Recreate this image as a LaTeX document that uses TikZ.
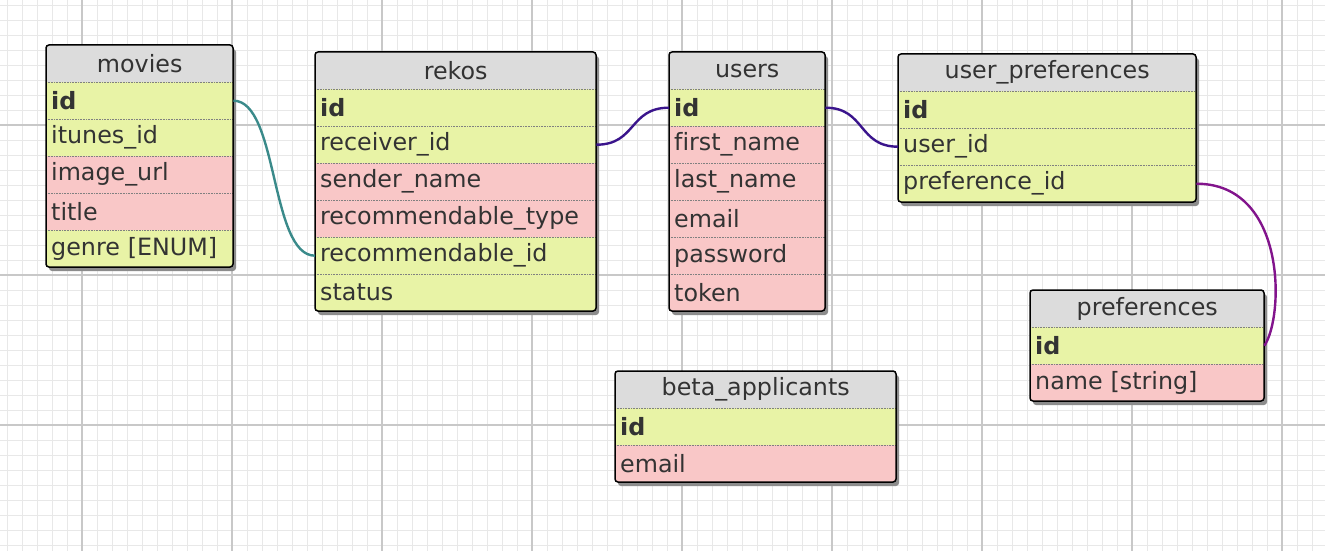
\documentclass[tikz,border=0pt]{standalone}
\usepackage{fontspec}
\setmainfont{DejaVu Sans}[Ligatures={NoCommon}]
\definecolor{gcol}{RGB}{232,243,166}
\definecolor{pcol}{RGB}{249,199,199}
\definecolor{hcol}{RGB}{220,220,220}
\definecolor{tcol}{RGB}{51,51,51}
\definecolor{minor}{RGB}{232,232,232}
\definecolor{major}{RGB}{200,200,200}
\definecolor{teal1}{RGB}{58,138,138}
\definecolor{indigo1}{RGB}{58,20,140}
\definecolor{purp1}{RGB}{130,20,140}
\tikzset{
  row/.style={anchor=north west, minimum height=37pt, inner sep=0pt, inner xsep=5pt, align=left, text=tcol, font=\fontsize{23.8}{27}\selectfont},
  hdr/.style={anchor=north west, minimum height=37pt, inner sep=0pt, fill=hcol, text=tcol, font=\fontsize{23.8}{27}\selectfont},
  sep/.style={gray, densely dotted, line width=0.6pt},
  frame/.style={line width=1.5pt, rounded corners=3pt},
  shad/.style={fill=black!45, rounded corners=3pt},
  link/.style={line width=2.4pt}
}
% #1 id, #2 x, #3 y, #4 w, #5 title, #6 nrows, #7 rows
\newcommand\ertable[7]{%
  \fill[shad] (#2+3,#3+4) rectangle ++(#4,{37*(#6+1)});
  \node[hdr, minimum width=#4pt] (#1) at (#2,#3) {#5};
  \foreach \t/\c [count=\i] in {#7} {
    \node[row, fill=\c, minimum width=#4pt, text width=#4pt-10pt] (#1-\i) at (#2,{#3+37*\i}) {\t};
    \draw[sep] (#1-\i.north west) -- (#1-\i.north east);
  }
  \draw[frame] (#2,#3) rectangle ++(#4,{37*(#6+1)});
}
\begin{document}
\begin{tikzpicture}[x=1pt,y=-1pt]
\useasboundingbox (0,0) rectangle (1325,551);
\fill[white] (0,0) rectangle (1325,551);
\foreach \x in {7,22,...,1325} \draw[minor, line width=0.8pt] (\x,0) -- (\x,551);
\foreach \y in {5,20,...,551} \draw[minor, line width=0.8pt] (0,\y) -- (1325,\y);
\foreach \x in {82,232,...,1325} \draw[major, line width=1.2pt] (\x,0) -- (\x,551);
\foreach \y in {125,275,425} \draw[major, line width=1.2pt] (0,\y) -- (1325,\y);

\ertable{mv}{46}{45}{187}{movies}{5}{{\textbf{id}}/gcol, itunes\_id/gcol, image\_url/pcol, title/pcol, {genre [ENUM]}/gcol}
\ertable{rk}{315}{52}{281}{rekos}{6}{{\textbf{id}}/gcol, receiver\_id/gcol, sender\_name/pcol, recommendable\_type/pcol, recommendable\_id/gcol, status/gcol}
\ertable{us}{669}{52}{156}{users}{6}{{\textbf{id}}/gcol, first\_name/pcol, last\_name/pcol, email/pcol, password/pcol, token/pcol}
\ertable{up}{898}{54}{298}{user\_preferences}{3}{{\textbf{id}}/gcol, user\_id/gcol, preference\_id/gcol}
\ertable{pf}{1030}{290}{234}{preferences}{2}{{\textbf{id}}/gcol, {name [string]}/pcol}
\ertable{ba}{615}{371}{281}{beta\_applicants}{2}{{\textbf{id}}/gcol, email/pcol}

\draw[link, teal1] (mv-1.east) .. controls +(45,0) and +(-45,0) .. (rk-5.west);
\draw[link, indigo1] (rk-2.east) .. controls +(40,0) and +(-40,0) .. (us-1.west);
\draw[link, indigo1] (us-1.east) .. controls +(40,0) and +(-40,0) .. (up-2.west);
\draw[link, purp1] (up-3.east) .. controls +(90,0) and +(20,-30) .. (pf-1.east);
\end{tikzpicture}
\end{document}
